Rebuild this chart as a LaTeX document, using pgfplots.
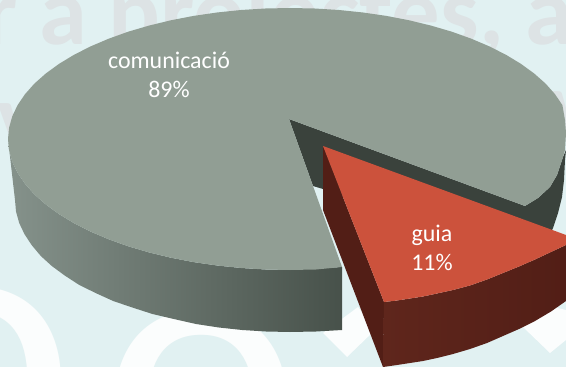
\documentclass[border=0pt]{standalone}
\usepackage{pgfplots}
\usepackage{fontspec}
\setmainfont{Carlito}
\pgfplotsset{compat=1.18}
\definecolor{bgc}{HTML}{E1F1F2}
\definecolor{topg}{HTML}{919E94}
\definecolor{wall}{HTML}{3A423C}
\definecolor{redt}{HTML}{CC523C}
\definecolor{reds}{HTML}{521E16}
\definecolor{redl}{HTML}{5F261C}
\definecolor{sidel}{HTML}{85928B}
\definecolor{sider}{HTML}{47514A}
\definecolor{ghost}{HTML}{DDE3E5}
\definecolor{paleo}{HTML}{FBFDFD}
\begin{document}
\begin{tikzpicture}
\begin{axis}[scale only axis,width=566bp,height=367bp,xmin=0,xmax=566,ymin=0,ymax=367,y dir=reverse,hide axis,clip=true]
\addplot[fill=bgc,draw=none] coordinates {(0,0)(566,0)(566,367)(0,367)} --cycle;
\node[text=ghost,anchor=base west,font=\bfseries\fontsize{97}{97}\selectfont,inner sep=0] at (axis cs:-17,44) {r a projectes, a};
\node[text=ghost,anchor=base west,font=\bfseries\fontsize{97}{97}\selectfont,inner sep=0] at (axis cs:-3,150) {v};
\node[text=ghost,anchor=base west,font=\bfseries\fontsize{97}{97}\selectfont,inner sep=0] at (axis cs:548,138) {v};
\node[text=paleo,anchor=base,font=\fontsize{380}{380}\selectfont,inner sep=0] at (axis cs:-25,470) {o};
\node[text=paleo,anchor=base,font=\fontsize{380}{380}\selectfont,inner sep=0] at (axis cs:201,493) {o};
\addplot[fill=paleo,draw=none] coordinates {(323,333)(347,357)(375,330)(358,307)} --cycle;
\addplot[fill=paleo,draw=none] coordinates {(523,327)(550,353)(566,340)(566,310)(545,305)} --cycle;
% gray side
\addplot[draw=none,left color=sidel,right color=sider] coordinates {(8,139)(9.1,150.4)(12.3,161.8)(17.6,172.9)(25,183.8)(34.4,194.4)(45.8,204.5)(59,214.1)(74,223.2)(90.6,231.6)(108.7,239.3)(128.2,246.3)(149,252.4)(170.8,257.7)(193.6,262.1)(217,265.5)(241,268)(265.4,269.5)(290,270)(342,267)(342,330)(316,331.5)(290,332)(266,331.5)(242.2,330)(218.8,327.5)(196,324)(173.8,319)(152.5,314)(132.3,307.5)(113.2,301)(95.6,293)(79.3,285)(64.7,275.5)(51.8,266)(40.8,256)(31.6,245)(24.4,234)(19.2,223)(16,211.5)(15,200)} --cycle;
% inner wall
\addplot[fill=wall,draw=none] coordinates {(289,119)(525,206)(538,198)(550,187)(557,175)(563,157)(566,150)(565,160)(564,180)(562,197)(558,213)(553,228)(545,245)(530,260)(323,189)(313,186)} --cycle;
% gray top
\addplot[fill=topg,draw=none] coordinates {(289,119)(525,206)(538,198)(550,187)(557,175)(563,157)(565,150)(566,133)(565,120)(562.4,105.1)(555,94.2)(545.6,83.6)(534.2,73.5)(521,63.9)(506,54.8)(489.4,46.4)(471.3,38.7)(451.8,31.7)(431,25.6)(409.2,20.3)(386.4,15.9)(363,12.5)(339,10)(314.6,8.5)(290,8)(265.4,8.5)(241,10)(217,12.5)(193.6,15.9)(170.8,20.3)(149,25.6)(128.2,31.7)(108.7,38.7)(90.6,46.4)(74,54.8)(59,63.9)(45.8,73.5)(34.4,83.6)(25,94.2)(17.6,105.1)(12.3,116.2)(9.1,127.6)(8,139)(9.1,150.4)(12.3,161.8)(17.6,172.9)(25,183.8)(34.4,194.4)(45.8,204.5)(59,214.1)(74,223.2)(90.6,231.6)(108.7,239.3)(128.2,246.3)(149,252.4)(170.8,257.7)(193.6,262.1)(217,265.5)(241,268)(265.4,269.5)(290,270)(316,269.5)(342,267)} --cycle;
% red sides
\addplot[fill=reds,draw=none] coordinates {(323,146)(323,210)(383,367)(384,302)} --cycle;
\addplot[draw=none,left color=redl,right color=reds] coordinates {(384,302)(397,300.5)(410,298.5)(423,296.5)(437,293.5)(453,290)(470,285.5)(487,279.5)(503,273)(519,266.5)(535,259.5)(551,252)(566,245)(566,301)(551,311.5)(535,321)(519,329)(503,336)(487,343)(470,349)(453,354)(437,358)(423,361)(410,363)(397,365)(383,367)} --cycle;
% red top
\addplot[fill=redt,draw=none] coordinates {(323,146)(566,235)(566,245)(551,252)(535,259.5)(519,266.5)(503,273)(487,279.5)(470,285.5)(453,290)(437,293.5)(423,296.5)(410,298.5)(397,300.5)(384,302)} --cycle;
\node[text=white,align=center,font=\fontsize{24}{29}\selectfont] at (axis cs:169,75) {comunicació\\89\%};
\node[text=white,align=center,font=\fontsize{24}{29}\selectfont] at (axis cs:432,248) {guia\\11\%};
\end{axis}
\end{tikzpicture}
\end{document}
